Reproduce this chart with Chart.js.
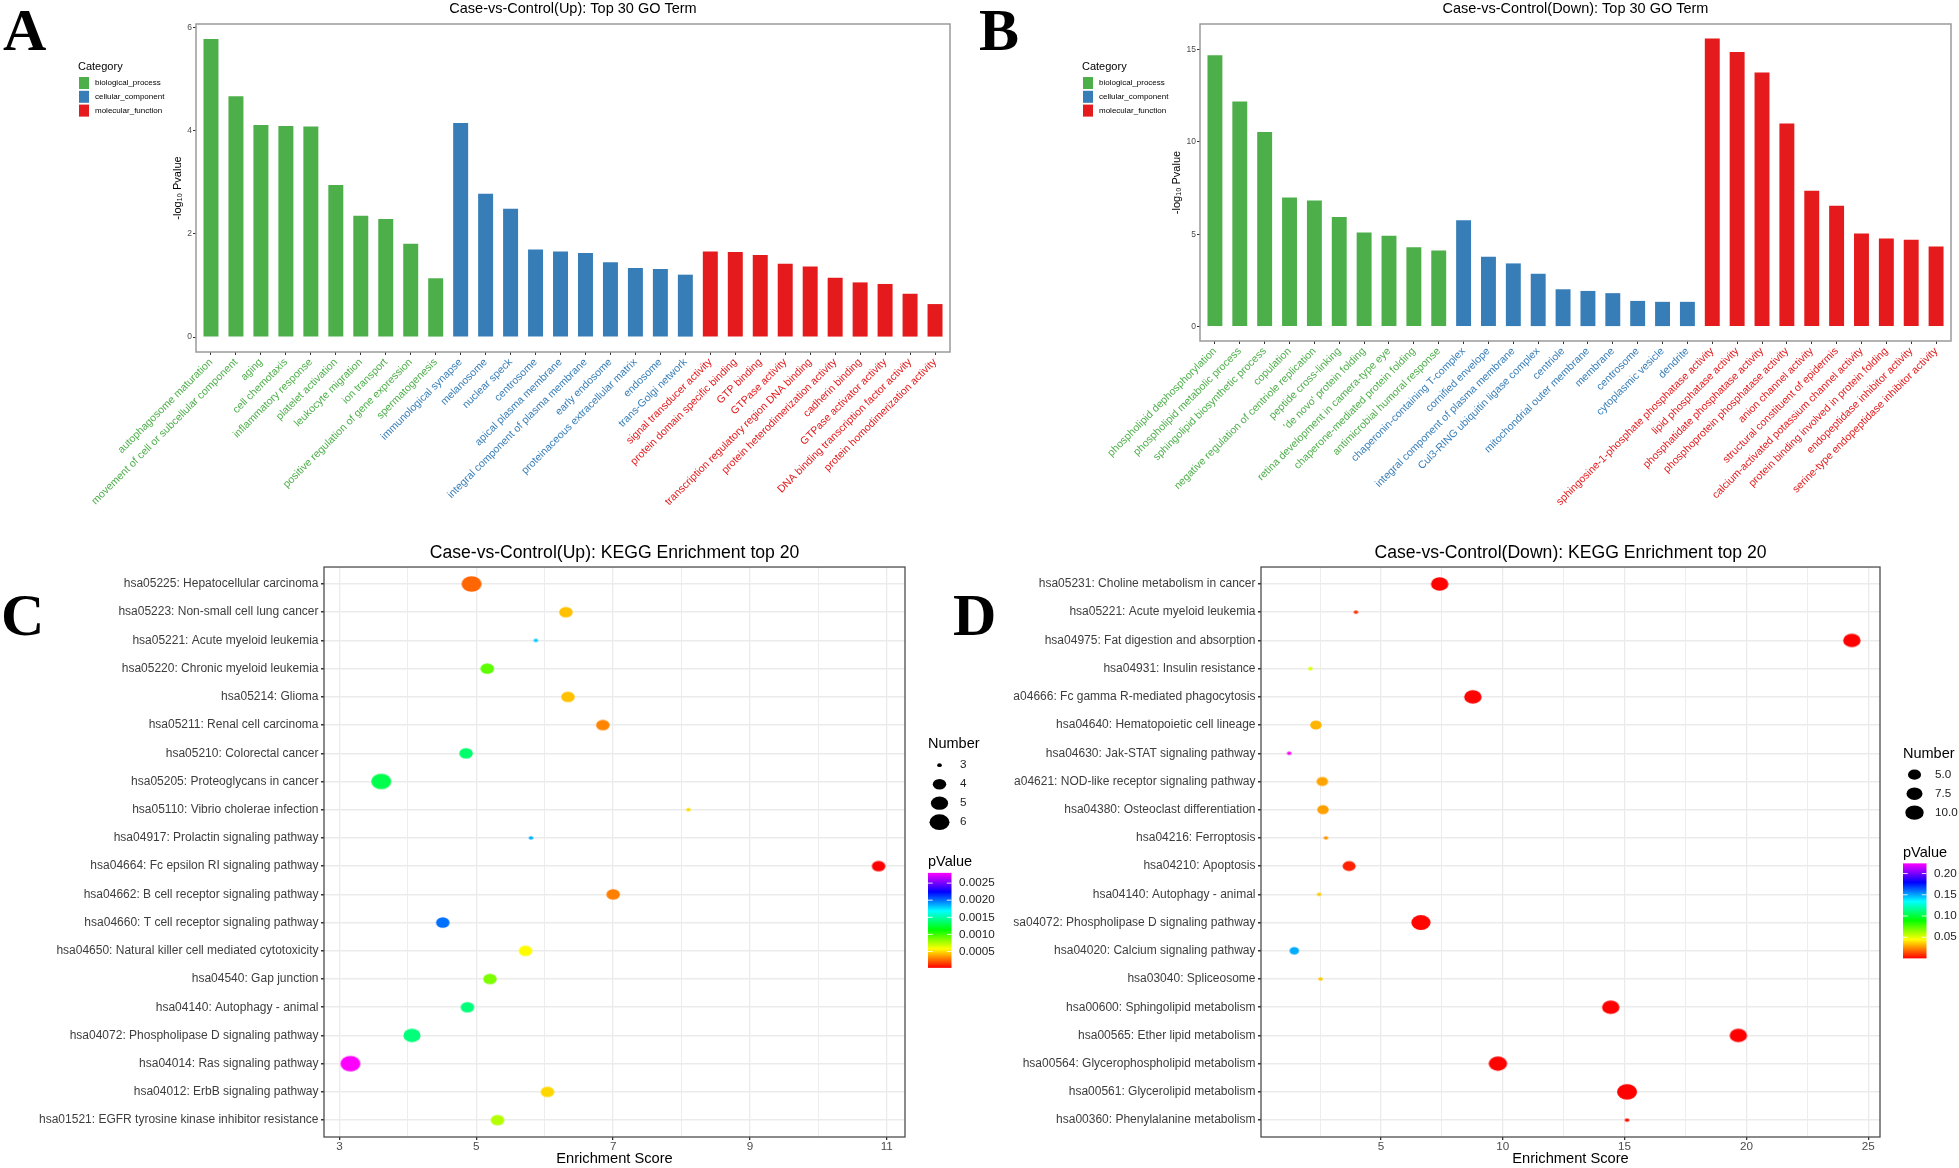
<!DOCTYPE html>
<html>
<head>
<meta charset="utf-8">
<script src="https://cdn.jsdelivr.net/npm/chart.js@4.4.1/dist/chart.umd.min.js"></script>
<style>
  html, body { margin: 0; padding: 0; background: #fff; }
  body { width: 1959px; height: 1168px; position: relative; overflow: hidden; }
  canvas { position: absolute; }
  .tag { position: absolute; font-family: 'Liberation Serif', 'Times New Roman', serif; font-weight: bold; font-size: 60px; line-height: 1; color: #000; }
</style>
</head>
<body>
<canvas id="chartA" width="975" height="530" style="left:0;top:0"></canvas>
<canvas id="chartB" width="979" height="530" style="left:980px;top:0"></canvas>
<canvas id="chartC" width="1000" height="628" style="left:0;top:540px"></canvas>
<canvas id="chartD" width="979" height="628" style="left:980px;top:540px"></canvas>
<div class="tag" style="left:3px;top:0">A</div>
<div class="tag" style="left:979px;top:0">B</div>
<div class="tag" style="left:1px;top:585px">C</div>
<div class="tag" style="left:953px;top:585px">D</div>
<script>
// GO categories
const GO_CATEGORIES = ['biological_process', 'cellular_component', 'molecular_function'];
const GO_COLORS = ['#4DAF4A', '#377EB8', '#E41A1C'];

// Panel A: up-regulated, top 30 GO terms
const A_TERMS = [
    'autophagosome maturation', 'movement of cell or subcellular component', 'aging', 'cell chemotaxis',
    'inflammatory response', 'platelet activation', 'leukocyte migration', 'ion transport',
    'positive regulation of gene expression', 'spermatogenesis',
    'immunological synapse', 'melanosome', 'nuclear speck', 'centrosome', 'apical plasma membrane',
    'integral component of plasma membrane', 'early endosome', 'proteinaceous extracellular matrix',
    'endosome', 'trans-Golgi network',
    'signal transducer activity', 'protein domain specific binding', 'GTP binding', 'GTPase activity',
    'transcription regulatory region DNA binding', 'protein heterodimerization activity', 'cadherin binding',
    'GTPase activator activity', 'DNA binding transcription factor activity', 'protein homodimerization activity'
];
const A_VALUES = [5.78, 4.67, 4.11, 4.09, 4.08, 2.95, 2.35, 2.29, 1.81, 1.14,
    4.15, 2.78, 2.49, 1.70, 1.66, 1.63, 1.45, 1.34, 1.32, 1.21,
    1.66, 1.65, 1.59, 1.42, 1.37, 1.15, 1.06, 1.03, 0.84, 0.64];
const A_GROUP = [0, 0, 0, 0, 0, 0, 0, 0, 0, 0, 1, 1, 1, 1, 1, 1, 1, 1, 1, 1, 2, 2, 2, 2, 2, 2, 2, 2, 2, 2];
const A_YTICKS = [0, 2, 4, 6];

// Panel B: down-regulated, top 30 GO terms
const B_TERMS = [
    'phospholipid dephosphorylation', 'phospholipid metabolic process', 'sphingolipid biosynthetic process',
    'copulation', 'negative regulation of centriole replication', 'peptide cross-linking',
    "'de novo' protein folding", 'retina development in camera-type eye', 'chaperone-mediated protein folding',
    'antimicrobial humoral response',
    'chaperonin-containing T-complex', 'cornified envelope', 'integral component of plasma membrane',
    'Cul3-RING ubiquitin ligase complex', 'centriole', 'mitochondrial outer membrane', 'membrane',
    'centrosome', 'cytoplasmic vesicle', 'dendrite',
    'sphingosine-1-phosphate phosphatase activity', 'lipid phosphatase activity',
    'phosphatidate phosphatase activity', 'phosphoprotein phosphatase activity', 'anion channel activity',
    'structural constituent of epidermis', 'calcium-activated potassium channel activity',
    'protein binding involved in protein folding', 'endopeptidase inhibitor activity',
    'serine-type endopeptidase inhibitor activity'
];
const B_VALUES = [14.69, 12.18, 10.54, 6.99, 6.83, 5.93, 5.10, 4.92, 4.30, 4.12,
    5.75, 3.78, 3.42, 2.86, 2.02, 1.93, 1.81, 1.39, 1.34, 1.34,
    15.60, 14.86, 13.75, 10.99, 7.36, 6.54, 5.04, 4.77, 4.70, 4.34];
const B_GROUP = [0, 0, 0, 0, 0, 0, 0, 0, 0, 0, 1, 1, 1, 1, 1, 1, 1, 1, 1, 1, 2, 2, 2, 2, 2, 2, 2, 2, 2, 2];
const B_YTICKS = [0, 5, 10, 15];

// Panel C: up-regulated KEGG top 20
const C_TERMS = [
    'hsa05225: Hepatocellular carcinoma', 'hsa05223: Non-small cell lung cancer',
    'hsa05221: Acute myeloid leukemia', 'hsa05220: Chronic myeloid leukemia', 'hsa05214: Glioma',
    'hsa05211: Renal cell carcinoma', 'hsa05210: Colorectal cancer', 'hsa05205: Proteoglycans in cancer',
    'hsa05110: Vibrio cholerae infection', 'hsa04917: Prolactin signaling pathway',
    'hsa04664: Fc epsilon RI signaling pathway', 'hsa04662: B cell receptor signaling pathway',
    'hsa04660: T cell receptor signaling pathway', 'hsa04650: Natural killer cell mediated cytotoxicity',
    'hsa04540: Gap junction', 'hsa04140: Autophagy - animal', 'hsa04072: Phospholipase D signaling pathway',
    'hsa04014: Ras signaling pathway', 'hsa04012: ErbB signaling pathway',
    'hsa01521: EGFR tyrosine kinase inhibitor resistance'
];
const C_SCORE = [4.93, 6.31, 5.87, 5.16, 6.34, 6.85, 4.85, 3.61, 8.10, 5.80,
    10.88, 7.00, 4.51, 5.72, 5.20, 4.87, 4.06, 3.16, 6.04, 5.31];
const C_NUMBER = [6, 4, 3, 4, 4, 4, 4, 6, 3, 3, 4, 4, 4, 4, 4, 4, 5, 6, 4, 4];
const C_PVALUE = [0.00024, 0.00044, 0.0018, 0.00093, 0.00044, 0.00031, 0.00137, 0.0013, 0.0005, 0.00185,
    0.00002, 0.0003, 0.002, 0.00057, 0.00086, 0.0014, 0.0014, 0.0028, 0.00049, 0.00074];
const C_XTICKS = [3, 5, 7, 9, 11];
const C_SIZE_BREAKS = [3, 4, 5, 6];
const C_P_BREAKS = [0.0005, 0.0010, 0.0015, 0.0020, 0.0025];

// Panel D: down-regulated KEGG top 20
const D_TERMS = [
    'hsa05231: Choline metabolism in cancer', 'hsa05221: Acute myeloid leukemia',
    'hsa04975: Fat digestion and absorption', 'hsa04931: Insulin resistance',
    'a04666: Fc gamma R-mediated phagocytosis', 'hsa04640: Hematopoietic cell lineage',
    'hsa04630: Jak-STAT signaling pathway', 'a04621: NOD-like receptor signaling pathway',
    'hsa04380: Osteoclast differentiation', 'hsa04216: Ferroptosis', 'hsa04210: Apoptosis',
    'hsa04140: Autophagy - animal', 'sa04072: Phospholipase D signaling pathway',
    'hsa04020: Calcium signaling pathway', 'hsa03040: Spliceosome', 'hsa00600: Sphingolipid metabolism',
    'hsa00565: Ether lipid metabolism', 'hsa00564: Glycerophospholipid metabolism',
    'hsa00561: Glycerolipid metabolism', 'hsa00360: Phenylalanine metabolism'
];
const D_SCORE = [7.41, 3.97, 24.33, 2.10, 8.77, 2.33, 1.23, 2.59, 2.62, 2.74,
    3.69, 2.46, 6.64, 1.44, 2.52, 14.43, 19.67, 9.80, 15.10, 15.10];
const D_NUMBER = [9, 2, 9, 2, 9, 4, 2, 4, 4, 2, 5, 2, 11, 3, 2, 9, 9, 10, 12, 2];
const D_PVALUE = [0.0005, 0.009, 0.0003, 0.052, 0.0008, 0.032, 0.224, 0.029, 0.028, 0.027,
    0.006, 0.036, 0.001, 0.149, 0.036, 0.0004, 0.0002, 0.0006, 0.0002, 0.002];
const D_XTICKS = [5, 10, 15, 20, 25];
const D_SIZE_BREAKS = [5, 7.5, 10];
const D_P_BREAKS = [0.05, 0.10, 0.15, 0.20];

const FONT = "'Liberation Sans', Arial, Helvetica, sans-serif";
Chart.defaults.font.family = FONT;
Chart.defaults.color = '#4d4d4d';

// ggplot-like area scale for dot size and rainbow colour scale
function dotWidth(n, range) {
    const t = (n - range[0]) / (range[1] - range[0]);
    return 4.7 + 15.3 * Math.sqrt(Math.max(t, 0));
}

function rainbow(p, range) {
    const t = (p - range[0]) / (range[1] - range[0]);
    return 'hsl(' + (300 * Math.min(Math.max(t, 0), 1)).toFixed(1) + ',100%,50%)';
}

function ellipseDot(w, color) {
    const h = w * 0.78;
    const c = document.createElement('canvas');
    c.width = Math.ceil(w) + 2;
    c.height = Math.ceil(h) + 2;
    const g = c.getContext('2d');
    g.fillStyle = color;
    g.beginPath();
    g.ellipse(c.width / 2, c.height / 2, w / 2, h / 2, 0, 0, Math.PI * 2);
    g.fill();
    return c;
}

const panelBox = {
    id: 'panelBox',
    afterDraw(chart, args, opts) {
        const { ctx, chartArea } = chart;
        ctx.save();
        ctx.strokeStyle = opts.color;
        ctx.lineWidth = opts.width;
        ctx.strokeRect(chartArea.left, chartArea.top, chartArea.right - chartArea.left, chartArea.bottom - chartArea.top);
        ctx.restore();
    }
};

const goLegend = {
    id: 'goLegend',
    afterDraw(chart) {
        const { ctx, chartArea } = chart;
        const x = chartArea.left - 118;
        const y = chartArea.top + 43;
        ctx.save();
        ctx.textBaseline = 'middle';
        ctx.textAlign = 'left';
        ctx.fillStyle = '#000';
        ctx.font = '11px ' + FONT;
        ctx.fillText('Category', x, y);
        GO_CATEGORIES.forEach((name, i) => {
            const ky = y + 10 + i * 13.8;
            ctx.fillStyle = GO_COLORS[i];
            ctx.fillRect(x + 1, ky, 10, 12);
            ctx.fillStyle = '#000';
            ctx.font = '8px ' + FONT;
            ctx.fillText(name, x + 17, ky + 6);
        });
        ctx.restore();
    }
};

const keggLegend = {
    id: 'keggLegend',
    afterDraw(chart, args, opts) {
        const { ctx, chartArea } = chart;
        const x = chartArea.right + 23;
        const n = opts.sizeBreaks.length;
        const h = 174.7 + (n - 1) * 19;
        const top = (chartArea.top + chartArea.bottom) / 2 - h / 2;
        ctx.save();
        ctx.textBaseline = 'middle';
        ctx.textAlign = 'left';

        ctx.fillStyle = '#000';
        ctx.font = '14.5px ' + FONT;
        ctx.fillText('Number', x, top + 8);
        opts.sizeBreaks.forEach((v, i) => {
            const cy = top + 29 + i * 19;
            const w = dotWidth(v, opts.sizeRange);
            ctx.fillStyle = '#000';
            ctx.beginPath();
            ctx.ellipse(x + 11.5, cy, w / 2, w * 0.78 / 2, 0, 0, Math.PI * 2);
            ctx.fill();
            ctx.fillStyle = '#222';
            ctx.font = '11.7px ' + FONT;
            ctx.fillText(opts.sizeLabel(v), x + 32, cy);
        });

        const py = top + 29 + (n - 1) * 19 + 40;
        ctx.fillStyle = '#000';
        ctx.font = '14.5px ' + FONT;
        ctx.fillText('pValue', x, py);

        const barTop = py + 10.7, barH = 95, barW = 23.5;
        const grad = ctx.createLinearGradient(0, barTop + barH, 0, barTop);
        for (let k = 0; k <= 10; k++) grad.addColorStop(k / 10, 'hsl(' + (30 * k) + ',100%,50%)');
        ctx.fillStyle = grad;
        ctx.fillRect(x, barTop, barW, barH);

        const pr = opts.pRange;
        opts.pBreaks.forEach(p => {
            const yy = barTop + barH - (p - pr[0]) / (pr[1] - pr[0]) * barH;
            ctx.strokeStyle = 'rgba(255,255,255,0.85)';
            ctx.lineWidth = 1;
            ctx.beginPath();
            ctx.moveTo(x, yy); ctx.lineTo(x + 4.7, yy);
            ctx.moveTo(x + barW - 4.7, yy); ctx.lineTo(x + barW, yy);
            ctx.stroke();
            ctx.fillStyle = '#222';
            ctx.font = '11.7px ' + FONT;
            ctx.fillText(opts.pLabel(p), x + 31, yy);
        });
        ctx.restore();
    }
};

function goChart(id, title, terms, values, groups, yTicks, box) {
    const canvas = document.getElementById(id);
    const yMax = Math.max(...values);
    const pad = yMax * 0.05;
    return new Chart(canvas, {
        type: 'bar',
        data: {
            datasets: [{
                data: values.map((v, i) => ({ x: i, y: v })),
                backgroundColor: groups.map(g => GO_COLORS[g]),
                borderWidth: 0,
                barPercentage: 0.6,
                categoryPercentage: 1
            }]
        },
        options: {
            responsive: false,
            animation: false,
            layout: { padding: { left: 0, top: 0, bottom: 0, right: canvas.width - box.right } },
            plugins: {
                legend: { display: false },
                tooltip: { enabled: false },
                title: {
                    display: true, text: title, fullSize: false, color: '#000',
                    font: { size: 14.5, weight: 'normal' },
                    padding: { top: 0.5, bottom: box.top - 17.4 - 0.5 }
                },
                panelBox: { color: '#9a9a9a', width: 1.5 }
            },
            scales: {
                x: {
                    type: 'linear',
                    min: -0.6,
                    max: terms.length - 0.4,
                    offset: false,
                    afterBuildTicks: s => { s.ticks = terms.map((t, i) => ({ value: i })); },
                    afterFit: s => { s.height = canvas.height - box.bottom; },
                    grid: { offset: false, drawOnChartArea: false, tickLength: 3, tickColor: '#333', tickWidth: 1 },
                    border: { display: false },
                    ticks: {
                        autoSkip: false, minRotation: 45, maxRotation: 45, padding: 1,
                        font: { size: 10.6 },
                        color: ctx => GO_COLORS[groups[ctx.index]],
                        callback: v => terms[v]
                    }
                },
                y: {
                    min: -pad,
                    max: yMax + pad,
                    afterBuildTicks: s => { s.ticks = yTicks.map(v => ({ value: v })); },
                    afterFit: s => { s.width = box.left; },
                    grid: { drawOnChartArea: false, tickLength: 3, tickColor: '#333' },
                    border: { display: false },
                    ticks: { padding: 1, font: { size: 8.5 }, color: '#4d4d4d' },
                    title: {
                        display: true, text: '-log\u2081\u2080 Pvalue', color: '#000',
                        font: { size: 11 },
                        padding: { top: box.yTitleX - 6.6, bottom: 0 }
                    }
                }
            }
        },
        plugins: [panelBox, goLegend]
    });
}

function keggChart(id, title, terms, scores, numbers, pvalues, xTicks, sizeBreaks, pBreaks, sizeLabel, pLabel, box) {
    const canvas = document.getElementById(id);
    const sizeRange = [Math.min(...numbers), Math.max(...numbers)];
    const pRange = [Math.min(...pvalues), Math.max(...pvalues)];
    const xLo = Math.min(...scores), xHi = Math.max(...scores);
    const xPad = (xHi - xLo) * 0.05;
    const xMin = xLo - xPad, xMax = xHi + xPad;

    // major ticks plus ggplot-style minor breaks halfway between
    const step = xTicks[1] - xTicks[0];
    const gridValues = [];
    if (xTicks[0] - step / 2 >= xMin) gridValues.push(xTicks[0] - step / 2);
    xTicks.forEach((t, i) => {
        gridValues.push(t);
        if (i < xTicks.length - 1 || t + step / 2 <= xMax) gridValues.push(t + step / 2);
    });
    const isMajor = v => xTicks.includes(v);

    const dots = scores.map((s, i) => ellipseDot(dotWidth(numbers[i], sizeRange), rainbow(pvalues[i], pRange)));

    return new Chart(canvas, {
        type: 'scatter',
        data: {
            datasets: [{
                data: scores.map((s, i) => ({ x: s, y: i })),
                pointStyle: ctx => dots[ctx.dataIndex],
                pointRadius: ctx => dots[ctx.dataIndex].width / 2,
                borderWidth: 0
            }]
        },
        options: {
            responsive: false,
            animation: false,
            layout: { padding: { left: 0, top: 0, bottom: 0, right: canvas.width - box.right } },
            plugins: {
                legend: { display: false },
                tooltip: { enabled: false },
                title: {
                    display: true, text: title, fullSize: false, color: '#000',
                    font: { size: 17.6, weight: 'normal' },
                    padding: { top: 2.5, bottom: box.top - 21.1 - 2.5 }
                },
                panelBox: { color: '#4d4d4d', width: 1.3 },
                keggLegend: { sizeBreaks, sizeRange, pBreaks, pRange, sizeLabel, pLabel }
            },
            scales: {
                x: {
                    type: 'linear',
                    min: xMin,
                    max: xMax,
                    afterBuildTicks: s => { s.ticks = gridValues.map(v => ({ value: v })); },
                    afterFit: s => { s.height = canvas.height - box.bottom; },
                    grid: {
                        color: '#ebebeb',
                        lineWidth: ctx => isMajor(ctx.tick.value) ? 1.3 : 0.9,
                        tickLength: 3,
                        tickColor: ctx => isMajor(ctx.tick.value) ? '#333' : 'rgba(0,0,0,0)'
                    },
                    border: { display: false },
                    ticks: {
                        autoSkip: false, maxRotation: 0, padding: 0,
                        font: { size: 11.7 }, color: '#4d4d4d',
                        callback: v => isMajor(v) ? String(v) : ''
                    },
                    title: {
                        display: true, text: 'Enrichment Score', color: '#000',
                        font: { size: 14.67 }, padding: { top: 0, bottom: 0 }
                    }
                },
                y: {
                    type: 'linear',
                    reverse: true,
                    min: -0.6,
                    max: terms.length - 0.4,
                    afterBuildTicks: s => { s.ticks = terms.map((t, i) => ({ value: i })); },
                    afterFit: s => { s.width = box.left; },
                    grid: { color: '#ebebeb', lineWidth: 1.5, tickLength: 3, tickColor: '#333' },
                    border: { display: false },
                    ticks: {
                        autoSkip: false, padding: 2.5,
                        font: { size: 12 }, color: '#3d3d3d',
                        callback: v => terms[v]
                    }
                }
            }
        },
        plugins: [panelBox, keggLegend]
    });
}

goChart('chartA', 'Case-vs-Control(Up): Top 30 GO Term', A_TERMS, A_VALUES, A_GROUP, A_YTICKS,
    { left: 196, top: 24, right: 950, bottom: 352, yTitleX: 178 });
goChart('chartB', 'Case-vs-Control(Down): Top 30 GO Term', B_TERMS, B_VALUES, B_GROUP, B_YTICKS,
    { left: 220, top: 24, right: 971, bottom: 341, yTitleX: 197 });

keggChart('chartC', 'Case-vs-Control(Up): KEGG Enrichment top 20', C_TERMS, C_SCORE, C_NUMBER, C_PVALUE,
    C_XTICKS, C_SIZE_BREAKS, C_P_BREAKS, v => String(v), p => p.toFixed(4),
    { left: 324, top: 27, right: 905, bottom: 597 });
keggChart('chartD', 'Case-vs-Control(Down): KEGG Enrichment top 20', D_TERMS, D_SCORE, D_NUMBER, D_PVALUE,
    D_XTICKS, D_SIZE_BREAKS, D_P_BREAKS, v => v.toFixed(1), p => p.toFixed(2),
    { left: 281, top: 27, right: 900, bottom: 597 });
</script>
</body>
</html>
